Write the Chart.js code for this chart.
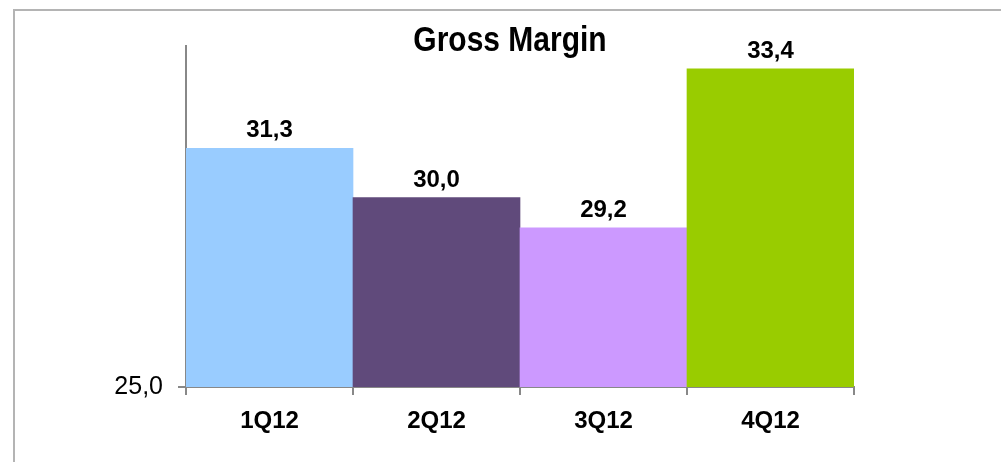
<!DOCTYPE html>
<html>
<head>
<meta charset="utf-8">
<title>Gross Margin</title>
<script src="https://cdn.jsdelivr.net/npm/chart.js@4"></script>
<style>
  html, body { margin: 0; padding: 0; background: #fff; }
  #wrap { width: 1001px; height: 462px; }
</style>
</head>
<body>
<div id="wrap"><canvas id="marginChart" width="1001" height="462"></canvas></div>
<script>
// data
const quarters = ['1Q12', '2Q12', '3Q12', '4Q12'];
const grossMargin = [31.3, 30.0, 29.2, 33.4];
const barColors = ['#99ccff', '#604a7b', '#cc99ff', '#99cc00'];
const yMin = 25;
const yMax = 34;
const chartTitle = 'Gross Margin';

const FONT = "'Liberation Sans', Arial, sans-serif";

function fmt(v) {
    return v.toFixed(1).replace('.', ',');
}

// frame lines + title + value labels
const decorPlugin = {
    id: 'decor',
    beforeDraw(chart) {
        const ctx = chart.ctx;
        ctx.save();
        ctx.strokeStyle = '#b4b4b4';
        ctx.lineWidth = 2;
        ctx.beginPath();
        ctx.moveTo(14, 462);
        ctx.lineTo(14, 10);
        ctx.lineTo(1001, 10);
        ctx.stroke();
        ctx.restore();
    },
    afterDatasetsDraw(chart) {
        const ctx = chart.ctx;
        ctx.save();
        ctx.fillStyle = '#000';
        ctx.textAlign = 'center';

        // title looks a bit stretched vertically in the original
        ctx.save();
        ctx.translate(510, 41);
        ctx.scale(1, 1.15);
        ctx.font = 'bold 30px ' + FONT;
        ctx.textBaseline = 'middle';
        ctx.fillText(chartTitle, 0, 0);
        ctx.restore();

        ctx.font = 'bold 24px ' + FONT;
        ctx.textBaseline = 'alphabetic';
        const meta = chart.getDatasetMeta(0);
        meta.data.forEach((bar, i) => {
            ctx.fillText(fmt(grossMargin[i]), bar.x, bar.y - 11);
        });
        ctx.restore();
    }
};

const ctx = document.getElementById('marginChart').getContext('2d');
const marginChart = new Chart(ctx, {
    type: 'bar',
    data: {
        labels: quarters,
        datasets: [{
            data: grossMargin,
            backgroundColor: barColors,
            borderWidth: 0,
            categoryPercentage: 1,
            barPercentage: 1
        }]
    },
    options: {
        responsive: false,
        animation: false,
        layout: {
            padding: { left: 0, right: 147, top: 46, bottom: 0 }
        },
        plugins: {
            legend: { display: false },
            tooltip: { enabled: false }
        },
        scales: {
            x: {
                offset: true,
                grid: {
                    offset: true,
                    drawOnChartArea: false,
                    tickLength: 8,
                    color: '#888888',
                    lineWidth: 2
                },
                border: { color: '#888888', width: 2 },
                ticks: {
                    color: '#000',
                    padding: 12,
                    font: { family: FONT, size: 24, weight: 'bold' }
                },
                afterFit(scale) { scale.height = 75; }
            },
            y: {
                min: yMin,
                max: yMax,
                grid: {
                    drawOnChartArea: false,
                    tickLength: 8,
                    color: '#888888',
                    lineWidth: 2
                },
                border: { color: '#888888', width: 2 },
                ticks: {
                    color: '#000',
                    padding: 15,
                    font: { family: FONT, size: 25 },
                    callback: (v) => fmt(v)
                },
                afterBuildTicks(scale) { scale.ticks = [{ value: yMin }]; },
                afterFit(scale) { scale.width = 186; }
            }
        }
    },
    plugins: [decorPlugin]
});
</script>
</body>
</html>
